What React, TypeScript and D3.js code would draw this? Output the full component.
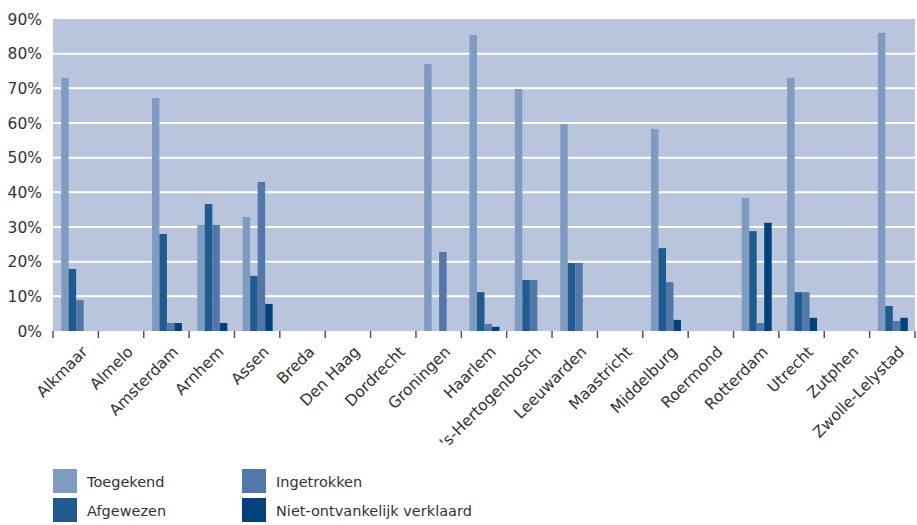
import React, { useEffect, useRef } from 'react';
import * as d3 from 'd3';

const categories = [
  'Alkmaar', 'Almelo', 'Amsterdam', 'Arnhem', 'Assen', 'Breda', 'Den Haag', 'Dordrecht',
  'Groningen', 'Haarlem', "'s-Hertogenbosch", 'Leeuwarden', 'Maastricht', 'Middelburg',
  'Roermond', 'Rotterdam', 'Utrecht', 'Zutphen', 'Zwolle-Lelystad',
];

const seriesNames = ['Toegekend', 'Afgewezen', 'Ingetrokken', 'Niet-ontvankelijk verklaard'];
const seriesColors = ['#7f9bc1', '#1f5b8e', '#5377a8', '#02427a'];

// percentages per category
const toegekend = [73, 0, 67.2, 30.6, 32.9, 0, 0, 0, 77, 85.4, 69.8, 59.7, 0, 58.3, 0, 38.4, 73, 0, 86];
const afgewezen = [17.9, 0, 28, 36.6, 15.9, 0, 0, 0, 0, 11.2, 14.7, 19.6, 0, 23.9, 0, 28.8, 11.2, 0, 7.2];
const ingetrokken = [8.9, 0, 2.3, 30.6, 43, 0, 0, 0, 22.8, 2, 14.7, 19.6, 0, 14.1, 0, 2.3, 11.2, 0, 2.9];
const nietOntvankelijk = [0, 0, 2.3, 2.3, 7.8, 0, 0, 0, 0, 1.2, 0, 0, 0, 3.2, 0, 31.2, 3.8, 0, 3.8];

const yTicks = [0, 10, 20, 30, 40, 50, 60, 70, 80, 90];

const WIDTH = 917;
const HEIGHT = 525;
const FONT = '"DejaVu Sans", Verdana, sans-serif';

const App: React.FC = () => {
  const svgRef = useRef<SVGSVGElement>(null);

  useEffect(() => {
    if (!svgRef.current) return;
    const svg = d3.select(svgRef.current);
    svg.selectAll('*').remove();

    const margin = { top: 19, right: 2, left: 53 };
    const plotBottom = 331;
    const plotRight = WIDTH - margin.right;

    const series = [toegekend, afgewezen, ingetrokken, nietOntvankelijk];

    const x0 = d3.scaleBand<string>()
      .domain(categories)
      .range([margin.left, plotRight])
      .paddingInner(0)
      .paddingOuter(0);

    const band = x0.bandwidth();
    const groupWidth = 30;
    const x1 = d3.scaleBand<number>()
      .domain([0, 1, 2, 3])
      .range([(band - groupWidth) / 2 + 0.5, (band + groupWidth) / 2 + 0.5])
      .padding(0);

    const y = d3.scaleLinear().domain([0, 90]).range([plotBottom, margin.top]);

    // background
    svg.append('rect')
      .attr('x', margin.left)
      .attr('y', margin.top)
      .attr('width', plotRight - margin.left)
      .attr('height', plotBottom - margin.top)
      .attr('fill', '#b8c5dd');

    // grid lines
    svg.append('g')
      .selectAll('line')
      .data(yTicks.filter(t => t > 0 && t < 90))
      .enter()
      .append('line')
      .attr('x1', margin.left)
      .attr('x2', plotRight)
      .attr('y1', d => y(d))
      .attr('y2', d => y(d))
      .attr('stroke', '#ffffff')
      .attr('stroke-width', 2);

    // bars
    const groups = svg.append('g')
      .selectAll('g')
      .data(categories)
      .enter()
      .append('g')
      .attr('transform', d => `translate(${x0(d)},0)`);

    groups.selectAll('rect')
      .data((_, ci) => series.map((s, si) => ({ si, v: s[ci] })))
      .enter()
      .append('rect')
      .attr('x', d => x1(d.si) || 0)
      .attr('width', x1.bandwidth())
      .attr('y', d => y(d.v))
      .attr('height', d => plotBottom - y(d.v))
      .attr('fill', d => seriesColors[d.si]);

    // x axis ticks
    const tickXs = categories.map(c => x0(c) || 0).concat([plotRight]);
    svg.append('g')
      .selectAll('line')
      .data(tickXs)
      .enter()
      .append('line')
      .attr('x1', d => d)
      .attr('x2', d => d)
      .attr('y1', plotBottom)
      .attr('y2', plotBottom + 7)
      .attr('stroke', '#555')
      .attr('stroke-width', 1.5);

    // x labels
    svg.append('g')
      .selectAll('text')
      .data(categories)
      .enter()
      .append('text')
      .attr('transform', d => `translate(${(x0(d) || 0) + band / 2 + 9},${plotBottom + 18}) rotate(-45)`)
      .attr('text-anchor', 'end')
      .attr('dy', '0.35em')
      .attr('font-family', FONT)
      .attr('font-size', 15.5)
      .attr('fill', '#333')
      .text(d => d);

    // y labels
    svg.append('g')
      .selectAll('text')
      .data(yTicks)
      .enter()
      .append('text')
      .attr('x', 42)
      .attr('y', d => y(d))
      .attr('dy', '0.36em')
      .attr('text-anchor', 'end')
      .attr('font-family', FONT)
      .attr('font-size', 15.5)
      .attr('fill', '#333')
      .text(d => `${d}%`);

    // legend
    const legendPos = [
      { x: 53, y: 469 },
      { x: 53, y: 498 },
      { x: 242, y: 469 },
      { x: 242, y: 498 },
    ];
    const legendOrder = [0, 1, 2, 3];
    const legend = svg.append('g')
      .selectAll('g')
      .data(legendOrder)
      .enter()
      .append('g')
      .attr('transform', (_, i) => `translate(${legendPos[i].x},${legendPos[i].y})`);

    legend.append('rect')
      .attr('width', 24)
      .attr('height', 24)
      .attr('fill', d => seriesColors[d]);

    legend.append('text')
      .attr('x', 34)
      .attr('y', 12)
      .attr('dy', '0.38em')
      .attr('font-family', FONT)
      .attr('font-size', 14.5)
      .attr('fill', '#333')
      .text(d => seriesNames[d]);
  }, []);

  return (
    <svg
      ref={svgRef}
      width={WIDTH}
      height={HEIGHT}
      style={{ position: 'absolute', left: 0, top: 0, display: 'block', background: '#fff' }}
    />
  );
};

export default App;
